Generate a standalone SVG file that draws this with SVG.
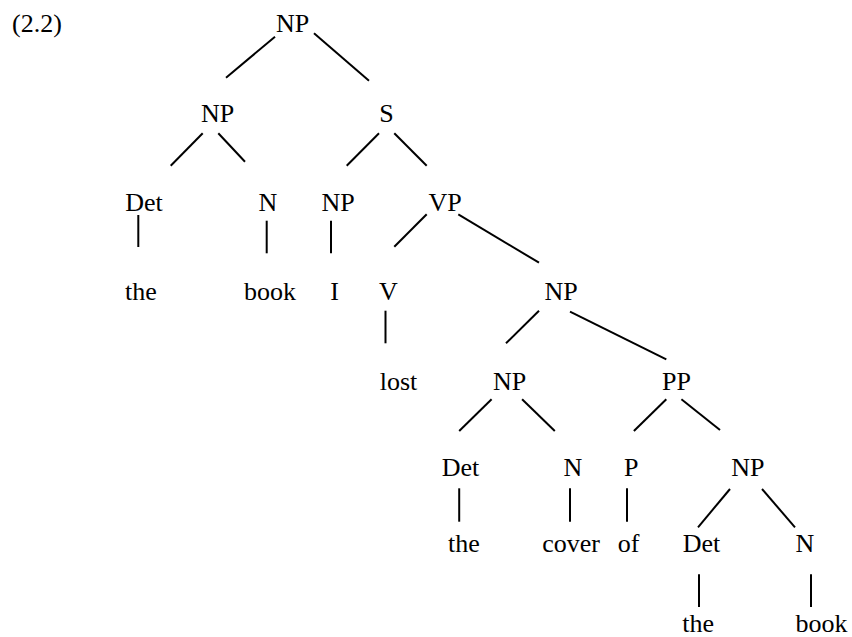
<svg xmlns="http://www.w3.org/2000/svg" width="852" height="637" viewBox="0 0 852 637">
<style>
text{font-family:'Liberation Serif','Times New Roman',Times,'DejaVu Serif',serif;font-size:26px;fill:#000;text-anchor:middle}
.lbl{text-anchor:start}
line{stroke:#000;stroke-width:2;stroke-linecap:butt}
</style>
<rect width="852" height="637" fill="#fff"/>
<text class="lbl" x="12" y="32" font-family="Liberation Serif, serif">(2.2)</text>
<g id="connectors">
<line x1="275" y1="36.7" x2="226" y2="77.7"/>
<line x1="314" y1="33.3" x2="369" y2="80.7"/>
<line x1="202.7" y1="133.3" x2="170.7" y2="165.7"/>
<line x1="218.3" y1="133.3" x2="245" y2="161.7"/>
<line x1="379" y1="133.3" x2="346.7" y2="165.7"/>
<line x1="394.3" y1="133.3" x2="426.7" y2="165.7"/>
<line x1="138.3" y1="215" x2="138.3" y2="247"/>
<line x1="266.7" y1="220.7" x2="266.7" y2="253.3"/>
<line x1="331" y1="220.7" x2="331" y2="253.3"/>
<line x1="426.7" y1="214.3" x2="394.3" y2="246.7"/>
<line x1="458.3" y1="214.3" x2="539" y2="262.7"/>
<line x1="385.5" y1="310.7" x2="385.5" y2="343.3"/>
<line x1="539" y1="310.7" x2="506" y2="343.3"/>
<line x1="570" y1="311.7" x2="666.3" y2="359.3"/>
<line x1="491.6" y1="399.3" x2="459.2" y2="431"/>
<line x1="522.1" y1="399.3" x2="554.8" y2="431"/>
<line x1="666.3" y1="399.3" x2="633.9" y2="431"/>
<line x1="681.4" y1="399.3" x2="720" y2="430"/>
<line x1="459.2" y1="488.3" x2="459.2" y2="521.7"/>
<line x1="570" y1="488.3" x2="570" y2="521.7"/>
<line x1="627" y1="488.3" x2="627" y2="521.7"/>
<line x1="730" y1="489" x2="698" y2="527.3"/>
<line x1="762" y1="489" x2="795" y2="527.3"/>
<line x1="699" y1="574.3" x2="699" y2="607"/>
<line x1="811" y1="574.3" x2="811" y2="607"/>
</g>
<g id="n-np-root"><text x="292.5" y="32">NP</text></g>
<g id="n-np-subj"><text x="217.5" y="122">NP</text></g>
<g id="n-s"><text x="386.5" y="122">S</text></g>
<g id="n-det1"><text x="144" y="211">Det</text></g>
<g id="n-n1"><text x="268" y="211">N</text></g>
<g id="n-np-i"><text x="338" y="211">NP</text></g>
<g id="n-vp"><text x="445" y="211">VP</text></g>
<g id="w-the1"><text x="141" y="300">the</text></g>
<g id="w-book1"><text x="270" y="300">book</text></g>
<g id="w-i"><text x="334.5" y="300">I</text></g>
<g id="n-v"><text x="388.5" y="300">V</text></g>
<g id="n-np-obj"><text x="561" y="300">NP</text></g>
<g id="w-lost"><text x="398.5" y="390">lost</text></g>
<g id="n-np-cover"><text x="509.7" y="390">NP</text></g>
<g id="n-pp"><text x="676.5" y="390">PP</text></g>
<g id="n-det2"><text x="460.5" y="476">Det</text></g>
<g id="n-n2"><text x="573" y="476">N</text></g>
<g id="n-p"><text x="631.3" y="476">P</text></g>
<g id="n-np-book"><text x="747.8" y="476">NP</text></g>
<g id="w-the2"><text x="464" y="552">the</text></g>
<g id="w-cover"><text x="571" y="552">cover</text></g>
<g id="w-of"><text x="628.6" y="552">of</text></g>
<g id="n-det3"><text x="701.5" y="552">Det</text></g>
<g id="n-n3"><text x="804.8" y="552">N</text></g>
<g id="w-the3"><text x="698.2" y="632">the</text></g>
<g id="w-book2"><text x="821.5" y="632">book</text></g>
</svg>
